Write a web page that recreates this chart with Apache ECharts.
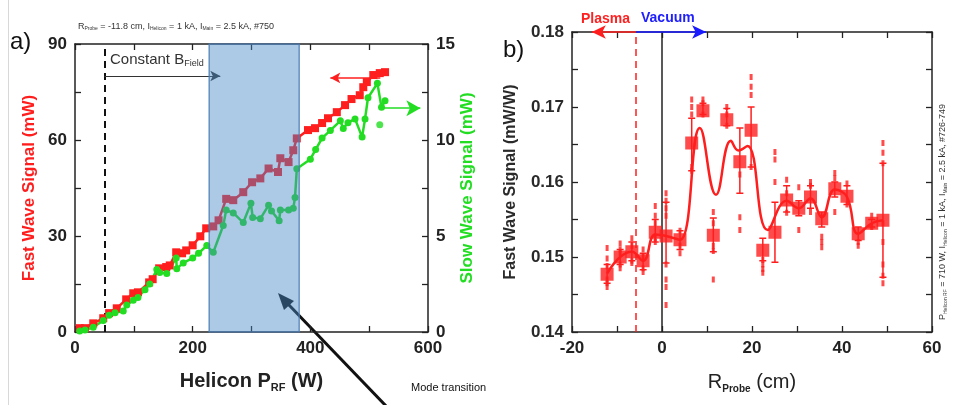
<!DOCTYPE html>
<html><head><meta charset="utf-8">
<script src="https://cdn.jsdelivr.net/npm/echarts@6/dist/echarts.min.js"></script>
<style>html,body{margin:0;padding:0;background:#fff}#c{width:953px;height:405px}</style>
</head><body><div id="c"></div><script>
// ---- Panel a) data ----
const fastPower = [8,17,31,48,58,71,87,99,107,126,132,143,155,161,172,182,189,200,213,223,235,244,257,269,286,301,315,329,345,349,363,371,377,396,408,420,430,445,459,470,484,490,496,507,518,527];
const fastSignal = [1.2,1.2,2.7,4.3,5.9,7.4,10.2,12.1,12.4,15.5,16.5,19.9,20.3,20.8,24.9,24.6,25.5,27.1,29.9,32.4,33.0,34.9,41.6,41.2,43.7,46.8,48.0,51.1,50.0,54.3,53.1,56.8,60.5,63.1,63.7,65.3,66.8,68.7,70.9,72.8,74.0,76.5,78.1,80.3,80.9,81.2];
const slowPower = [8,17,31,48,58,68,82,88,99,107,119,127,139,144,156,172,173,184,200,210,224,235,252,257,269,286,299,302,315,329,334,347,349,363,371,374,377,400,409,420,434,451,456,464,476,488,493,498,514,521,527];
const slowSignal = [0.05,0.1,0.25,0.6,0.87,1.0,1.1,1.4,1.65,1.8,2.2,2.5,3.25,3.1,3.05,3.85,3.3,3.6,3.85,4.1,4.5,4.15,5.55,6.35,6.2,5.7,6.7,5.97,5.9,6.6,6.3,5.8,6.35,6.35,6.45,7.0,8.5,9.0,9.5,10.1,10.5,11.0,10.6,10.9,11.1,10.15,11.1,12.2,12.95,11.7,12.05];
const slowStrayPower = [518];
const slowStraySignal = [10.8];
const modeBand = [228, 381];
const constBLine = 50;
const powerTicks = [0, 200, 400, 600];
const fastTicks = [0, 30, 60, 90];
const slowTicks = [0, 5, 10, 15];

// ---- Panel b) data ----
const rProbe = [-12.2,-9.3,-6.7,-4.2,-1.5,0.9,4,6.6,9.1,11.4,14.4,17.3,19.8,22.4,25.1,27.7,30.4,33,35.5,38.4,41.1,43.6,46.6,49.1];
const fwMean = [0.1477,0.1500,0.1507,0.1495,0.1533,0.1528,0.1523,0.1652,0.1695,0.1529,0.1683,0.1627,0.1669,0.1509,0.1533,0.1576,0.1565,0.1580,0.1551,0.1591,0.1581,0.1531,0.1545,0.1549];
const fwLow  = [0.1465,0.1490,0.1495,0.1483,0.1520,0.1492,0.1510,0.1615,0.1690,0.1507,0.1675,0.1585,0.1620,0.1495,0.1493,0.1560,0.1555,0.1565,0.1540,0.1580,0.1570,0.1522,0.1540,0.1473];
const fwHigh = [0.1490,0.1510,0.1520,0.1505,0.1550,0.1573,0.1535,0.1685,0.1705,0.1552,0.1698,0.1672,0.1700,0.1525,0.1573,0.1595,0.1575,0.1595,0.1560,0.1600,0.1595,0.1540,0.1550,0.1625];
const shotR = [-12.2,-12.2,-12.2,-12.2,-12.2,-12.2,-9.3,-9.3,-9.3,-9.3,-9.3,-6.7,-6.7,-6.7,-6.7,-4.2,-4.2,-4.2,-4.2,-1.5,-1.5,-1.5,-1.5,-1.5,0.9,0.9,0.9,0.9,0.9,0.9,0.9,0.9,4,4,4,6.6,6.6,6.6,6.6,6.6,9.1,9.1,9.1,11.4,11.4,11.4,11.4,11.4,14.4,14.4,14.4,17.3,17.3,17.3,19.8,19.8,19.8,19.8,22.4,22.4,22.4,22.4,25.1,25.1,25.1,27.7,27.7,27.7,30.4,30.4,33,33,33,35.5,35.5,35.5,38.4,38.4,38.4,41.1,41.1,43.6,43.6,46.6,46.6,49.1,49.1,49.1,49.1,49.1,49.1,49.1,49.1];
const shotV = [0.1512,0.1498,0.1470,0.1465,0.1460,0.1488,0.1518,0.1510,0.1490,0.1485,0.1505,0.1525,0.1515,0.1495,0.1492,0.1510,0.1485,0.1480,0.1500,0.1568,0.1555,0.1545,0.1520,0.1525,0.1585,0.1575,0.1565,0.1555,0.1490,0.1470,0.1460,0.1436,0.1535,0.1515,0.1505,0.1710,0.1700,0.1690,0.1620,0.1615,0.1710,0.1705,0.1690,0.1560,0.1545,0.1515,0.1508,0.1470,0.1700,0.1690,0.1675,0.1553,0.1536,0.1610,0.1740,0.1727,0.1716,0.1620,0.1496,0.1490,0.1484,0.1479,0.1640,0.1630,0.1600,0.1603,0.1585,0.1559,0.1593,0.1536,0.1600,0.1595,0.1560,0.1527,0.1520,0.1513,0.1612,0.1605,0.1560,0.1598,0.1570,0.1520,0.1515,0.1555,0.1540,0.1652,0.1639,0.1625,0.1545,0.1520,0.1490,0.1475,0.1465];
const fitR = [-12.2,-9.3,-6.7,-4.2,-1.5,0.9,4,8.4,12,15.3,17,19,23.5,27.7,30.4,33,35.5,38.4,41.1,43.6,46.6,49.1];
const fitV = [0.1478,0.1500,0.1507,0.1495,0.1530,0.1528,0.1523,0.1672,0.1583,0.1655,0.1642,0.1648,0.1536,0.1575,0.1565,0.1578,0.1553,0.1590,0.1580,0.1531,0.1545,0.1549];
const plasmaEdge = -5.8;
const plasmaArrowEnd = -15.6;
const vacuumArrowEnd = 9.8;
const rTicks = [-20, 0, 20, 40, 60];
const fwTicks = [0.14, 0.15, 0.16, 0.17, 0.18];

const FONT = 'Liberation Sans, Arial, sans-serif';
const zip = (a, b) => a.map((v, i) => [v, b[i]]);

function axisBase(extra) {
  return Object.assign({
    axisLine: { show: true, onZero: false, lineStyle: { color: '#222', width: 1.5 } },
    axisTick: { show: true, inside: true, length: 6, lineStyle: { color: '#222', width: 1.3 } },
    minorTick: { show: true, splitNumber: 2, length: 6, lineStyle: { color: '#222', width: 1.3 } },
    splitLine: { show: false },
    axisLabel: { fontFamily: FONT, fontWeight: 'bold', fontSize: 17, color: '#222' }
  }, extra);
}
const noLabel = { show: false };

const red = '#ff1e1e', green = '#22dd22';

const option = {
  animation: false,
  textStyle: { fontFamily: FONT },
  grid: [
    { left: 75, top: 44, width: 353, height: 288 },
    { left: 572, top: 32, width: 360, height: 300 }
  ],
  xAxis: [
    axisBase({ gridIndex: 0, type: 'value', position: 'bottom', min: powerTicks[0], max: powerTicks[3], interval: 200,
      name: '{b|Helicon P}{s|RF}{b| (W)}', nameLocation: 'middle', nameGap: 38,
      nameTextStyle: { rich: { b: { fontFamily: FONT, fontWeight: 'bold', fontSize: 20, color: '#222' },
                               s: { fontFamily: FONT, fontWeight: 'bold', fontSize: 11, color: '#222', padding: [12, 0, 0, 0] } } } }),
    axisBase({ gridIndex: 0, type: 'value', position: 'top', min: powerTicks[0], max: powerTicks[3], interval: 200, axisLabel: noLabel }),
    axisBase({ gridIndex: 1, type: 'value', position: 'bottom', min: rTicks[0], max: rTicks[4], interval: 20,
      name: '{b|R}{s|Probe}{b| (cm)}', nameLocation: 'middle', nameGap: 38,
      nameTextStyle: { rich: { b: { fontFamily: FONT, fontSize: 20, color: '#222' },
                               s: { fontFamily: FONT, fontWeight: 'bold', fontSize: 10, color: '#222', padding: [14, 0, 0, 0] } } } }),
    axisBase({ gridIndex: 1, type: 'value', position: 'top', min: rTicks[0], max: rTicks[4], interval: 20, axisLabel: noLabel })
  ],
  yAxis: [
    axisBase({ gridIndex: 0, type: 'value', position: 'left', min: fastTicks[0], max: fastTicks[3], interval: 30,
      name: 'Fast Wave Signal (mW)', nameLocation: 'middle', nameGap: 37,
      nameTextStyle: { fontFamily: FONT, fontWeight: 'bold', fontSize: 17, color: red } }),
    axisBase({ gridIndex: 0, type: 'value', position: 'right', min: slowTicks[0], max: slowTicks[3], interval: 5,
      name: 'Slow Wave Signal (mW)', nameLocation: 'middle', nameGap: 30, nameRotate: 90,
      nameTextStyle: { fontFamily: FONT, fontWeight: 'bold', fontSize: 17, color: green } }),
    axisBase({ gridIndex: 1, type: 'value', position: 'left', min: fwTicks[0], max: fwTicks[4], interval: 0.01,
      axisLabel: { fontFamily: FONT, fontWeight: 'bold', fontSize: 17, color: '#2a2a2a', formatter: v => v.toFixed(2) },
      name: 'Fast Wave Signal (mW/W)', nameLocation: 'middle', nameGap: 53,
      nameTextStyle: { fontFamily: FONT, fontWeight: 'bold', fontSize: 16, color: '#2a2a2a' } }),
    axisBase({ gridIndex: 1, type: 'value', position: 'right', min: fwTicks[0], max: fwTicks[4], interval: 0.01, axisLabel: noLabel })
  ],
  series: [
    // panel a annotations
    { type: 'line', xAxisIndex: 0, yAxisIndex: 0, data: [], z: 3, silent: true,
      markLine: { silent: true, symbol: ['none', 'none'], label: { show: false },
        lineStyle: { color: '#111', type: [7, 5], width: 2 },
        data: [ { xAxis: constBLine } ] } },
    { type: 'line', xAxisIndex: 0, yAxisIndex: 0, data: [], z: 4, silent: true,
      markLine: { silent: true, symbol: ['none', 'arrow'], symbolSize: [8, 10], label: { show: false },
        data: [
          [ { coord: [constBLine, 80], lineStyle: { color: '#333', width: 1.2, type: 'solid' } }, { coord: [247, 80] } ],
          [ { coord: [519, 79.4], lineStyle: { color: red, width: 1.5, type: 'solid' }, itemStyle: { color: red }, symbolSize: [12, 14] }, { coord: [434, 79.4] } ]
        ] } },
    { type: 'line', xAxisIndex: 0, yAxisIndex: 1, data: [], z: 4, silent: true,
      markLine: { silent: true, symbol: ['none', 'arrow'], symbolSize: [12, 14], label: { show: false },
        data: [ [ { coord: [519, 11.66], lineStyle: { color: green, width: 1.5, type: 'solid' }, itemStyle: { color: green } }, { coord: [587, 11.66] } ] ] } },
    { name: 'Fast', type: 'line', xAxisIndex: 0, yAxisIndex: 0, data: zip(fastPower, fastSignal), z: 5,
      symbol: 'rect', symbolSize: 8, itemStyle: { color: red }, lineStyle: { color: red, width: 2.5 } },
    { name: 'Slow', type: 'line', xAxisIndex: 0, yAxisIndex: 1, data: zip(slowPower, slowSignal), z: 5,
      symbol: 'circle', symbolSize: 7, itemStyle: { color: green }, lineStyle: { color: green, width: 2.5 } },
    { name: 'SlowStray', type: 'scatter', xAxisIndex: 0, yAxisIndex: 1, data: zip(slowStrayPower, slowStraySignal), z: 5,
      symbol: 'circle', symbolSize: 7, itemStyle: { color: green } },
    { name: 'band', type: 'custom', xAxisIndex: 0, yAxisIndex: 0, z: 10, silent: true,
      data: [ [modeBand[0], modeBand[1]] ],
      renderItem: (params, api) => {
        const p0 = api.coord([api.value(0), fastTicks[3]]);
        const p1 = api.coord([api.value(1), fastTicks[0]]);
        return { type: 'rect', shape: { x: p0[0], y: p0[1], width: p1[0] - p0[0], height: p1[1] - p0[1] },
          style: { fill: 'rgba(70,135,200,0.45)', stroke: '#4a7db5', lineWidth: 1.2 } };
      } },
    // panel b
    { type: 'line', xAxisIndex: 2, yAxisIndex: 2, data: [], z: 3, silent: true,
      markLine: { silent: true, symbol: ['none', 'none'], label: { show: false },
        data: [
          { xAxis: plasmaEdge, lineStyle: { color: red, type: [7, 5], width: 1.5 } },
          { xAxis: 0, lineStyle: { color: '#222', type: 'solid', width: 1.5 } }
        ] } },
    { type: 'line', xAxisIndex: 2, yAxisIndex: 2, data: [], z: 6, silent: true,
      markLine: { silent: true, symbol: ['none', 'arrow'], symbolSize: [10, 14], label: { show: false },
        data: [
          [ { coord: [plasmaEdge, fwTicks[4]], lineStyle: { color: red, width: 1.5, type: 'solid' }, itemStyle: { color: red } }, { coord: [plasmaArrowEnd, fwTicks[4]] } ],
          [ { coord: [plasmaEdge, fwTicks[4]], lineStyle: { color: '#1a1aff', width: 1.5, type: 'solid' }, itemStyle: { color: '#1a1aff' } }, { coord: [vacuumArrowEnd, fwTicks[4]] } ]
        ] } },
    { name: 'err', type: 'custom', xAxisIndex: 2, yAxisIndex: 2, z: 4, silent: true,
      data: rProbe.map((r, i) => [r, fwLow[i], fwHigh[i]]),
      renderItem: (params, api) => {
        const lo = api.coord([api.value(0), api.value(1)]);
        const hi = api.coord([api.value(0), api.value(2)]);
        const c = 3.5;
        const st = { stroke: red, lineWidth: 1.5 };
        return { type: 'group', children: [
          { type: 'line', shape: { x1: lo[0], y1: lo[1], x2: hi[0], y2: hi[1] }, style: st },
          { type: 'line', shape: { x1: lo[0] - c, y1: lo[1], x2: lo[0] + c, y2: lo[1] }, style: st },
          { type: 'line', shape: { x1: hi[0] - c, y1: hi[1], x2: hi[0] + c, y2: hi[1] }, style: st }
        ] };
      } },
    { name: 'shots', type: 'scatter', xAxisIndex: 2, yAxisIndex: 2, data: zip(shotR, shotV), z: 4, silent: true,
      symbol: 'rect', symbolSize: [3, 6], itemStyle: { color: red } },
    { name: 'fit', type: 'line', xAxisIndex: 2, yAxisIndex: 2, data: zip(fitR, fitV), z: 5, silent: true,
      smooth: 0.45, showSymbol: false, symbol: 'none', lineStyle: { color: red, width: 2.5 } },
    { name: 'mean', type: 'scatter', xAxisIndex: 2, yAxisIndex: 2, data: zip(rProbe, fwMean), z: 6, silent: true,
      symbol: 'rect', symbolSize: 13, itemStyle: { color: red } }
  ],
  graphic: [
    { type: 'line', shape: { x1: 8.5, y1: 0, x2: 8.5, y2: 405 }, style: { stroke: '#d8d8d8', lineWidth: 1 }, silent: true },
    { type: 'text', left: 10, top: 30, style: { text: 'a)', font: '24px ' + FONT, fill: '#111' } },
    { type: 'text', left: 503, top: 38, style: { text: 'b)', font: '24px ' + FONT, fill: '#111' } },
    { type: 'text', left: 78, top: 22, style: {
        text: '{n|R}{s|Probe}{n| = -11.8 cm, I}{s|Helicon}{n| = 1 kA, I}{s|Main}{n| = 2.5 kA, #750}',
        rich: { n: { fontFamily: FONT, fontSize: 9, fill: '#333' }, s: { fontFamily: FONT, fontSize: 5, fill: '#333', padding: [5, 0, 0, 0] } } } },
    { type: 'text', left: 110, top: 52, style: {
        text: '{n|Constant B}{s|Field}',
        rich: { n: { fontFamily: FONT, fontSize: 15, fill: '#333' }, s: { fontFamily: FONT, fontSize: 9, fill: '#333', padding: [9, 0, 0, 0] } } } },
    { type: 'text', left: 411, top: 382, style: { text: 'Mode transition', font: '11px ' + FONT, fill: '#111' } },
    { type: 'line', shape: { x1: 387, y1: 407, x2: 288, y2: 304 }, style: { stroke: '#111', lineWidth: 3 }, silent: true },
    { type: 'polygon', shape: { points: [[278, 293], [294, 301], [284, 310]] }, style: { fill: '#111' }, silent: true },
    { type: 'text', left: 581, top: 12, style: { text: 'Plasma', font: 'bold 14px ' + FONT, fill: '#ff2020' } },
    { type: 'text', left: 641, top: 11, style: { text: 'Vacuum', font: 'bold 14px ' + FONT, fill: '#2020ff' } },
    { type: 'text', x: 938, y: 320, rotation: Math.PI / 2, style: {
        text: '{n|P}{s|Helicon RF}{n| = 710 W, I}{s|Helicon}{n| = 1 kA, I}{s|Main}{n| = 2.5 kA, #726-749}',
        rich: { n: { fontFamily: FONT, fontSize: 9, fill: '#333' }, s: { fontFamily: FONT, fontSize: 5, fill: '#333', padding: [5, 0, 0, 0] } } } }
  ]
};
const chart = echarts.init(document.getElementById('c'), null, { renderer: 'canvas' });
chart.setOption(option);
</script></body></html>
